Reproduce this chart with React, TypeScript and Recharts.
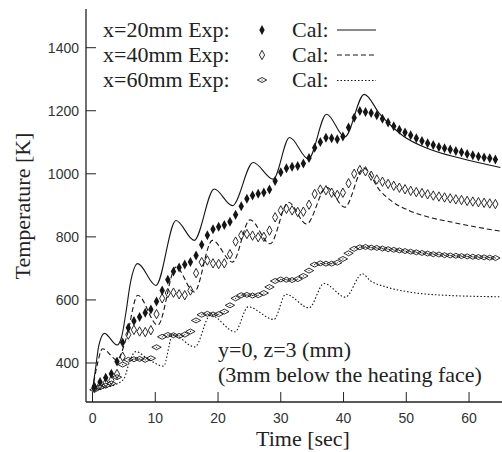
import { ComposedChart, Line, Scatter, XAxis, YAxis } from "recharts";

// experimental sample times [sec], shared by the three Exp series
const EXP_T = [
  0.3, 1.2, 2.1, 3.0, 3.9, 4.8, 5.7, 6.6, 7.5, 8.4, 9.3, 10.2, 11.1, 12.0, 12.9, 13.8, 14.7, 15.6,
  16.5, 17.4, 18.3, 19.2, 20.1, 21.0, 21.9, 22.8, 23.7, 24.6, 25.5, 26.4, 27.3, 28.2, 29.1, 30.0,
  30.9, 31.8, 32.7, 33.6, 34.5, 35.4, 36.3, 37.2, 38.1, 39.0, 39.9, 40.8, 41.7, 42.6, 43.5, 44.4,
  45.3, 46.2, 47.1, 48.0, 48.9, 49.8, 50.7, 51.6, 52.5, 53.4, 54.3, 55.2, 56.1, 57.0, 57.9, 58.8,
  59.7, 60.6, 61.5, 62.4, 63.3, 64.2,
];
const EXP_20 = [
  325, 340, 353, 366, 405, 465, 512, 533, 546, 559, 570, 595, 630, 664, 690, 703, 712, 720, 741,
  775, 805, 824, 832, 838, 848, 870, 897, 921, 931, 937, 941, 950, 977, 1005, 1018, 1022, 1025,
  1033, 1050, 1083, 1101, 1114, 1113, 1110, 1118, 1147, 1178, 1199, 1196, 1193, 1186, 1175, 1163,
  1151, 1140, 1131, 1122, 1113, 1104, 1097, 1091, 1085, 1081, 1077, 1072, 1068, 1063, 1059, 1055,
  1052, 1049, 1045,
];
const EXP_40 = [
  322, 330, 337, 345, 365, 420, 490, 505, 500, 498, 504, 555, 605, 622, 623, 618, 615, 630, 685,
  720, 725, 716, 714, 716, 745, 785, 805, 809, 804, 799, 800, 820, 862, 884, 889, 884, 879, 880,
  902, 936, 950, 948, 940, 933, 940, 970, 1000, 1012, 1008, 994, 982, 975, 968, 962, 956, 951, 946,
  942, 939, 935, 931, 928, 925, 922, 919, 917, 914, 912, 910, 908, 906, 904,
];
const EXP_60 = [
  315, 323, 328, 335, 355, 395, 410, 412, 413, 410, 415, 450, 483, 489, 488, 486, 490, 500, 535,
  553, 556, 554, 555, 563, 583, 605, 615, 616, 614, 615, 622, 641, 660, 665, 664, 663, 666, 676,
  693, 712, 716, 715, 715, 718, 730, 748, 762, 767, 768, 766, 765, 763, 761, 759, 757, 755, 753,
  751, 749, 747, 745, 744, 742, 741, 740, 739, 738, 737, 736, 735, 734, 733,
];

// calculated curves (peaks / troughs)
const CAL20_T = [0, 0.5, 1.0, 1.9, 3.9, 4.6, 5.3, 6.0, 7.2, 10.1, 13.3, 16.2, 19.4, 22.3, 25.6, 28.8, 31.4, 34.4, 37.3, 40.2, 43.3, 45.8, 49.5, 53.7, 58.5, 65];
const CAL20_V = [315, 385, 455, 494, 457, 480, 557, 650, 715, 646, 852, 789, 952, 899, 1036, 983, 1115, 1047, 1189, 1117, 1252, 1189, 1120, 1078, 1050, 1020];
const CAL40_T = [0, 0.7, 1.6, 3.9, 5.4, 7.2, 10.4, 13.3, 16.2, 19.1, 22.3, 25.1, 28.3, 31.2, 34.1, 37.3, 40.2, 43.2, 45.8, 47.9, 50.5, 53.7, 57.4, 61.2, 65];
const CAL40_V = [315, 390, 445, 410, 480, 615, 520, 704, 625, 789, 720, 854, 778, 910, 841, 957, 894, 1018, 947, 910, 883, 862, 846, 831, 818];
const CAL60_T = [0, 2.0, 4.0, 5.0, 6.0, 6.9, 9.0, 11.3, 12.8, 16.3, 18.8, 22.7, 24.8, 28.9, 30.8, 34.5, 36.9, 40.3, 43.0, 44.2, 46.8, 50.5, 55.9, 65];
const CAL60_V = [312, 322, 335, 350, 410, 436, 410, 390, 490, 451, 552, 499, 578, 538, 618, 575, 652, 609, 683, 662, 641, 625, 615, 610];

const X_TICKS = [0, 10, 20, 30, 40, 50, 60];
const Y_TICKS = [400, 600, 800, 1000, 1200, 1400];
const X_DOMAIN: [number, number] = [-1.04, 66.05];
const Y_DOMAIN: [number, number] = [276.3, 1522.7];

const pts = (ts: number[], vs: number[]) => ts.map((t, i) => ({ t, v: vs[i] }));

const exp20 = pts(EXP_T, EXP_20);
const exp40 = pts(EXP_T, EXP_40);
const exp60 = pts(EXP_T, EXP_60);
const cal20 = pts(CAL20_T, CAL20_V);
const cal40 = pts(CAL40_T, CAL40_V);
const cal60 = pts(CAL60_T, CAL60_V);

const INK = "#151515";
const SERIF = "'Liberation Serif', 'Times New Roman', serif";
const SANS = "'Liberation Sans', Arial, sans-serif";

const FilledDiamond = ({ cx, cy }: any) => (
  <polygon points={`${cx},${cy - 5} ${cx + 2.7},${cy} ${cx},${cy + 5} ${cx - 2.7},${cy}`} fill={INK} />
);
const OpenDiamond = ({ cx, cy }: any) => (
  <polygon
    points={`${cx},${cy - 4.7} ${cx + 2.6},${cy} ${cx},${cy + 4.7} ${cx - 2.6},${cy}`}
    fill="none"
    stroke={INK}
    strokeWidth={0.9}
  />
);
const FlatDiamond = ({ cx, cy }: any) => (
  <g>
    <polygon
      points={`${cx - 4.7},${cy} ${cx},${cy - 2.5} ${cx + 4.7},${cy} ${cx},${cy + 2.5}`}
      fill="none"
      stroke={INK}
      strokeWidth={0.9}
    />
    <circle cx={cx} cy={cy} r={0.6} fill={INK} />
  </g>
);

const axisLine = { stroke: "#222", strokeWidth: 1.3 };
const tickLine = { stroke: "#222", strokeWidth: 1 };
const tickFont = { fill: "#333", fontSize: 14, fontFamily: SANS };

export default function App() {
  return (
    <div style={{ position: "absolute", left: 0, top: 0, width: 502, height: 452, overflow: "hidden", background: "#fff" }}>
      <ComposedChart width={510} height={452} margin={{ top: 9, right: 3, bottom: 0, left: 26 }}>
        <XAxis
          xAxisId="b"
          type="number"
          dataKey="t"
          domain={X_DOMAIN}
          ticks={X_TICKS}
          allowDataOverflow
          height={50}
          tickSize={-10}
          tickMargin={21}
          axisLine={axisLine}
          tickLine={tickLine}
          tick={tickFont}
        />
        <XAxis
          xAxisId="top"
          orientation="top"
          type="number"
          dataKey="t"
          domain={X_DOMAIN}
          ticks={X_TICKS}
          allowDataOverflow
          height={0}
          tickSize={-10}
          axisLine={axisLine}
          tickLine={tickLine}
          tick={false}
        />
        <YAxis
          yAxisId="l"
          type="number"
          domain={Y_DOMAIN}
          ticks={Y_TICKS}
          allowDataOverflow
          width={60}
          tickSize={-10}
          tickMargin={17}
          axisLine={axisLine}
          tickLine={tickLine}
          tick={tickFont}
        />
        <YAxis
          yAxisId="r"
          orientation="right"
          type="number"
          domain={Y_DOMAIN}
          ticks={Y_TICKS}
          allowDataOverflow
          width={0}
          tickSize={-10}
          axisLine={axisLine}
          tickLine={tickLine}
          tick={false}
        />

        <Line xAxisId="b" yAxisId="l" data={cal20} dataKey="v" type="monotone" stroke={INK} strokeWidth={1.1} dot={false} isAnimationActive={false} />
        <Line xAxisId="b" yAxisId="l" data={cal40} dataKey="v" type="monotone" stroke={INK} strokeWidth={1.1} strokeDasharray="5 3" dot={false} isAnimationActive={false} />
        <Line xAxisId="b" yAxisId="l" data={cal60} dataKey="v" type="monotone" stroke={INK} strokeWidth={1.1} strokeDasharray="1.5 2" dot={false} isAnimationActive={false} />

        <Scatter xAxisId="b" yAxisId="l" data={exp60} dataKey="v" shape={FlatDiamond} isAnimationActive={false} />
        <Scatter xAxisId="b" yAxisId="l" data={exp40} dataKey="v" shape={OpenDiamond} isAnimationActive={false} />
        <Scatter xAxisId="b" yAxisId="l" data={exp20} dataKey="v" shape={FilledDiamond} isAnimationActive={false} />
      </ComposedChart>

      <svg width={502} height={452} style={{ position: "absolute", left: 0, top: 0, pointerEvents: "none" }}>
        <g fontFamily={SERIF} fontSize={22} fill="#222">
          <text x={29.5} y={206} transform="rotate(-90 29.5 206)" textAnchor="middle">
            Temperature [K]
          </text>
          <text x={303} y={446} textAnchor="middle">
            Time [sec]
          </text>

          <text x={103} y={37}>x=20mm Exp:</text>
          <text x={103} y={62}>x=40mm Exp:</text>
          <text x={103} y={87}>x=60mm Exp:</text>
          <text x={292} y={37}>Cal:</text>
          <text x={292} y={62}>Cal:</text>
          <text x={292} y={87}>Cal:</text>

          <text x={218} y={357}>y=0, z=3 (mm)</text>
          <text x={218} y={382}>(3mm below the heating face)</text>
        </g>
        <FilledDiamond cx={262} cy={30} />
        <OpenDiamond cx={262} cy={55} />
        <FlatDiamond cx={262} cy={80} />
        <line x1={337} x2={376} y1={30} y2={30} stroke={INK} strokeWidth={1.1} />
        <line x1={337} x2={376} y1={55} y2={55} stroke={INK} strokeWidth={1.1} strokeDasharray="5 3" />
        <line x1={337} x2={376} y1={80.5} y2={80.5} stroke={INK} strokeWidth={1.1} strokeDasharray="1.5 2" />
      </svg>
    </div>
  );
}
